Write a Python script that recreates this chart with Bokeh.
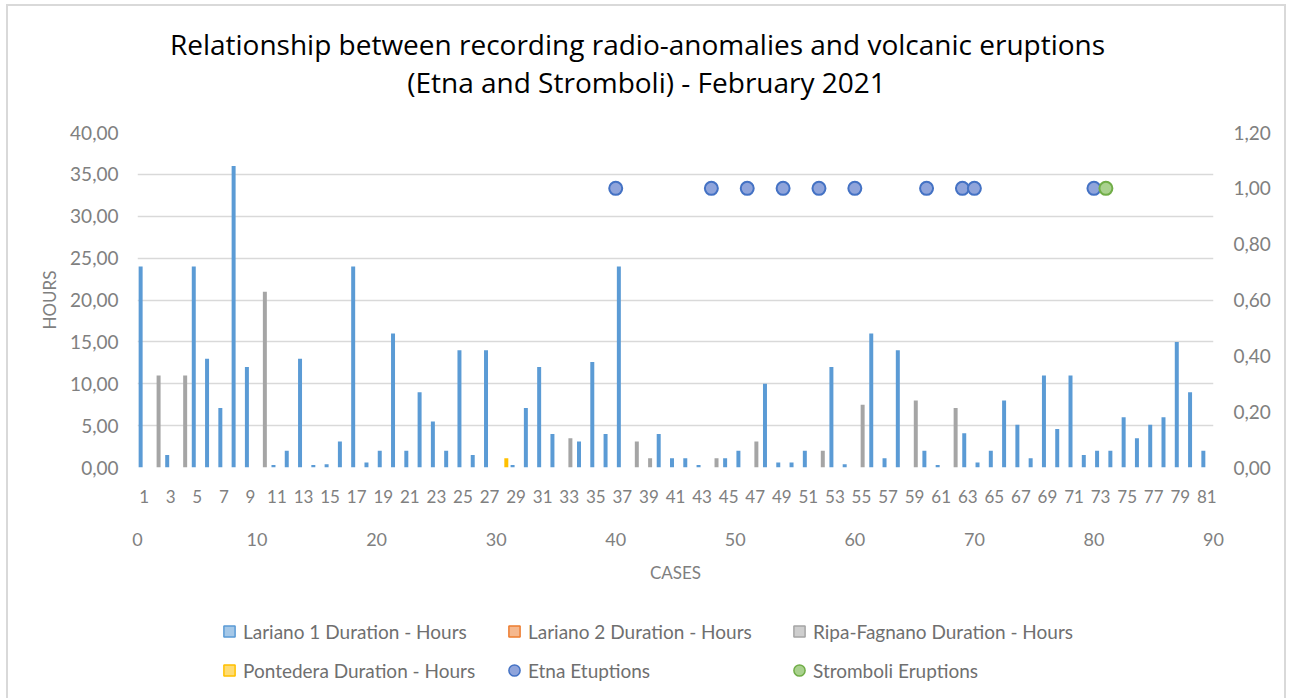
from bokeh.plotting import figure
from bokeh.layouts import column
from bokeh.models import (Range1d, LinearAxis, FixedTicker, CustomJSTickFormatter, Label,
                          Legend, LegendItem, ColumnDataSource, Grid)
from bokeh.transform import dodge
from bokeh.embed import file_html
from bokeh.resources import INLINE

# ---------------- data ----------------
cases = list(range(1, 82))

lariano1 = [24, 0, 1.5, 0, 24, 13, 7.1, 36, 12, 0,
            0.3, 2, 13, 0.3, 0.4, 3.1, 24, 0.6, 2, 16,
            2, 9, 5.5, 2, 14, 1.5, 14, 0, 0.3, 7.1,
            12, 4, 0, 3.1, 12.6, 4, 24, 0, 0, 4,
            1.1, 1.1, 0.3, 0, 1.1, 2, 0, 10, 0.6, 0.6,
            2, 0, 12, 0.4, 0, 16, 1.1, 14, 0, 2,
            0.3, 0, 4.1, 0.6, 2, 8, 5.1, 1.1, 11, 4.6,
            11, 1.5, 2, 2, 6, 3.5, 5.1, 6, 15, 9,
            2]

lariano2 = [0, 0, 0, 0, 0, 0, 0, 0, 0, 0,
            0, 0, 0, 0, 0, 0, 0, 0, 0, 0,
            0, 0, 0, 0, 0, 0, 0, 0, 0, 0,
            0, 0, 0, 0, 0, 0, 0, 0, 0, 0,
            0, 0, 0, 0, 0, 0, 0, 0, 0, 0,
            0, 0, 0, 0, 0, 0, 0, 0, 0, 0,
            0, 0, 0, 0, 0, 0, 0, 0, 0, 0,
            0, 0, 0, 0, 0, 0, 0, 0, 0, 0,
            0]

ripa = [0, 11, 0, 11, 0, 0, 0, 0, 0, 21,
        0, 0, 0, 0, 0, 0, 0, 0, 0, 0,
        0, 0, 0, 0, 0, 0, 0, 0, 0, 0,
        0, 0, 3.5, 0, 0, 0, 0, 3.1, 1.1, 0,
        0, 0, 0, 1.1, 0, 0, 3.1, 0, 0, 0,
        0, 2, 0, 0, 7.5, 0, 0, 0, 8, 0,
        0, 7.1, 0, 0, 0, 0, 0, 0, 0, 0,
        0, 0, 0, 0, 0, 0, 0, 0, 0, 0,
        0]

pontedera = [0, 0, 0, 0, 0, 0, 0, 0, 0, 0,
             0, 0, 0, 0, 0, 0, 0, 0, 0, 0,
             0, 0, 0, 0, 0, 0, 0, 1.1, 0, 0,
             0, 0, 0, 0, 0, 0, 0, 0, 0, 0,
             0, 0, 0, 0, 0, 0, 0, 0, 0, 0,
             0, 0, 0, 0, 0, 0, 0, 0, 0, 0,
             0, 0, 0, 0, 0, 0, 0, 0, 0, 0,
             0, 0, 0, 0, 0, 0, 0, 0, 0, 0,
             0]

etna_x = [40, 48, 51, 54, 57, 60, 66, 69, 70, 80]
etna_y = [1.0, 1.0, 1.0, 1.0, 1.0, 1.0, 1.0, 1.0, 1.0, 1.0]
stromboli_x = [81]
stromboli_y = [1.0]

hours_ticks = [0, 5, 10, 15, 20, 25, 30, 35, 40]
right_ticks = [0, 0.2, 0.4, 0.6, 0.8, 1.0, 1.2]
case_ticks = [1, 3, 5, 7, 9, 11, 13, 15, 17, 19, 21, 23, 25, 27, 29, 31, 33, 35, 37, 39,
              41, 43, 45, 47, 49, 51, 53, 55, 57, 59, 61, 63, 65, 67, 69, 71, 73, 75, 77, 79, 81]
x_ticks = [0, 10, 20, 30, 40, 50, 60, 70, 80, 90]

title1 = "Relationship between recording radio-anomalies and volcanic eruptions"
title2 = "(Etna and Stromboli) - February 2021"
labels = ["Lariano 1 Duration - Hours", "Lariano 2 Duration - Hours",
          "Ripa-Fagnano Duration - Hours", "Pontedera Duration - Hours",
          "Etna Etuptions", "Stromboli Eruptions"]

C_L1, C_L2, C_RIPA, C_PONT = "#5B9BD5", "#ED7D31", "#A5A5A5", "#FFC000"
C_ETNA_F, C_ETNA_L = "#8FA4DB", "#4472C4"
C_STR_F, C_STR_L = "#A9D18E", "#70AD47"
FONT = "Lato"
TFONT = "Open Sans"
TICK_COLOR = "#808080"
W = 1276


def bare_figure(height):
    # strip without axes; its frame is aligned with the main chart's frame by the column;
    # its ranges lie far from the data so that legend-source glyphs stay out of view
    f = figure(width=W, height=height, x_range=Range1d(-3000, -2000), y_range=Range1d(-3000, -2000),
               output_backend="svg", toolbar_location=None,
               x_axis_location=None, y_axis_location=None,
               min_border=0, min_border_left=0, min_border_right=0,
               min_border_top=0, min_border_bottom=0)
    f.center = [r for r in f.center if not isinstance(r, Grid)]
    f.outline_line_color = None
    f.background_fill_color = "white"
    f.border_fill_color = "white"
    return f


# ---------------- title strip ----------------
TOP_H = 112
pt = bare_figure(TOP_H)
pt.add_layout(Label(x=500, y=75, x_units="screen", y_units="screen", text=title1,
                    text_font=TFONT, text_font_size="28px", text_color="#000000",
                    text_align="center", text_baseline="middle"))
pt.add_layout(Label(x=509, y=37, x_units="screen", y_units="screen", text=title2,
                    text_font=TFONT, text_font_size="28px", text_color="#000000",
                    text_align="center", text_baseline="middle"))

# ---------------- main chart ----------------
MAIN_H = 475
p = figure(width=W, height=MAIN_H, x_range=Range1d(0, 90), y_range=Range1d(0, 40),
           output_backend="svg", toolbar_location=None,
           x_axis_location=None, y_axis_location=None,
           min_border_left=129, min_border_right=71, min_border_top=14, min_border_bottom=126)
p.outline_line_color = None
p.background_fill_color = "white"
p.border_fill_color = "white"
p.extra_x_ranges = {"cat": Range1d(0.5, 81.5)}
p.extra_y_ranges = {"right": Range1d(0, 1.2)}
p.center = [r for r in p.center if not isinstance(r, Grid)]

y_ticker = FixedTicker(ticks=hours_ticks)
p.add_layout(Grid(dimension=1, ticker=y_ticker, grid_line_color="#D9D9D9", grid_line_width=1.5))

fmt = CustomJSTickFormatter(code="return tick.toFixed(2).replace('.', ',');")


def style_axis(ax, size="19px"):
    ax.axis_line_color = None
    ax.major_tick_line_color = None
    ax.minor_tick_line_color = None
    ax.major_tick_out = 0
    ax.major_tick_in = 0
    ax.major_label_text_font = FONT
    ax.major_label_text_font_size = size
    ax.major_label_text_color = TICK_COLOR
    ax.axis_label_text_font = FONT
    ax.axis_label_text_font_size = "17px"
    ax.axis_label_text_font_style = "normal"
    ax.axis_label_text_color = "#7F7F7F"


left = LinearAxis(ticker=y_ticker, formatter=fmt, axis_label="HOURS")
style_axis(left)
left.major_label_standoff = 19
left.axis_label_standoff = 7
p.add_layout(left, "left")

right = LinearAxis(y_range_name="right", ticker=FixedTicker(ticks=right_ticks), formatter=fmt)
style_axis(right)
right.major_label_standoff = 20
p.add_layout(right, "right")

cat_axis = LinearAxis(x_range_name="cat", ticker=FixedTicker(ticks=case_ticks))
style_axis(cat_axis, "17px")
cat_axis.major_label_standoff = 22
p.add_layout(cat_axis, "below")

num_axis = LinearAxis(ticker=FixedTicker(ticks=x_ticks), axis_label="CASES")
style_axis(num_axis, "18px")
num_axis.major_label_standoff = 27
num_axis.axis_label_standoff = 13
p.add_layout(num_axis, "below")

src = ColumnDataSource(dict(case=cases, l1=lariano1, l2=lariano2, ripa=ripa, pont=pontedera))
BW = 0.3
series = [("l1", -0.264, C_L1), ("l2", -0.088, C_L2), ("ripa", 0.088, C_RIPA), ("pont", 0.264, C_PONT)]
for col, off, color in series:
    p.vbar(x=dodge("case", off), top=col, width=BW, bottom=0, source=src,
           x_range_name="cat", fill_color=color, line_color=None)

p.scatter(etna_x, etna_y, y_range_name="right", size=13, marker="circle",
          fill_color=C_ETNA_F, line_color=C_ETNA_L, line_width=2)
p.scatter(stromboli_x, stromboli_y, y_range_name="right", size=13, marker="circle",
          fill_color=C_STR_F, line_color=C_STR_L, line_width=2)

# ---------------- legend strip ----------------
LEG_H = 692 - TOP_H - MAIN_H
pl = bare_figure(LEG_H)
swatches = []
for col, off, color in series:
    swatches.append(pl.scatter(x="case", y=col, source=src, marker="square", fill_color=color,
                               fill_alpha=0.55, line_color=color, line_width=1.5))
swatches.append(pl.scatter(etna_x, etna_y, marker="circle", fill_color=C_ETNA_F,
                           line_color=C_ETNA_L, line_width=1.5))
swatches.append(pl.scatter(stromboli_x, stromboli_y, marker="circle", fill_color=C_STR_F,
                           line_color=C_STR_L, line_width=1.5))

legend = Legend(items=[LegendItem(label=l, renderers=[r]) for l, r in zip(labels, swatches)],
                orientation="horizontal", ncols=3, location=(78, 14),
                glyph_width=28, glyph_height=28, label_standoff=0, label_width=246, spacing=11,
                label_text_font=FONT, label_text_font_size="19px", label_text_color="#6F6F6F",
                border_line_color=None, background_fill_alpha=0, padding=0, margin=0)
pl.add_layout(legend, "center")

layout = column(pt, p, pl, spacing=0,
                styles={"margin-left": "6px", "margin-top": "4px",
                        "border-top": "2px solid #D9D9D9", "border-left": "2px solid #D9D9D9",
                        "border-right": "2px solid #D9D9D9"})

open("out.html", "w").write(file_html(layout, INLINE))
